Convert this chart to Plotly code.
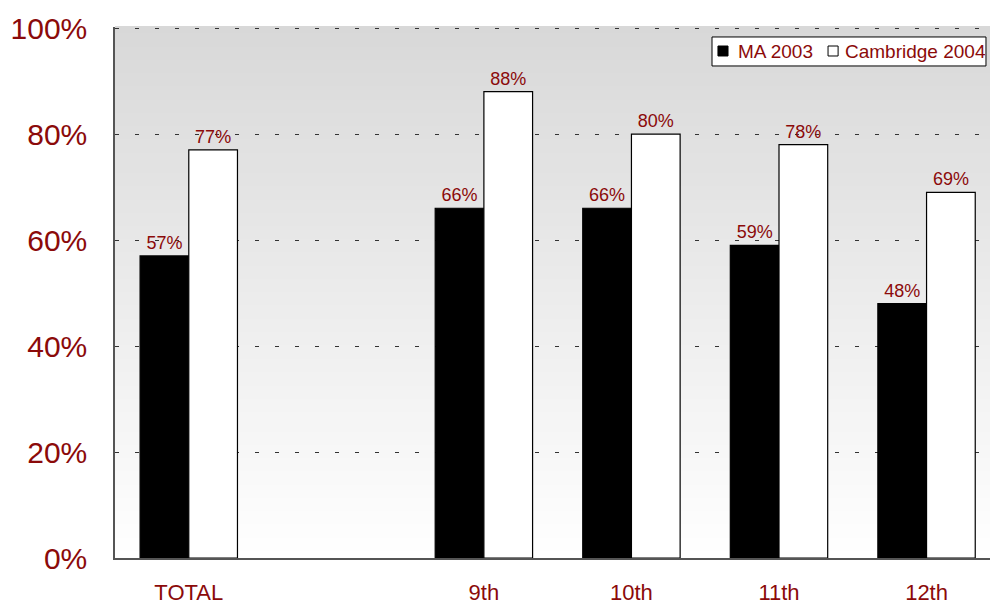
import plotly.graph_objects as go

categories = ["TOTAL", " ", "9th", "10th", "11th", "12th"]
ma_2003 = [57, None, 66, 66, 59, 48]
cambridge_2004 = [77, None, 88, 80, 78, 69]
series_names = ["MA 2003", "Cambridge 2004"]
series_colors = ["black", "white"]
y_ticks = [0, 20, 40, 60, 80, 100]

RED = "#8B0A0A"
FONT = "Arial, Liberation Sans, sans-serif"

def labels(vals):
    return [f"{v}%" if v is not None else "" for v in vals]

fig = go.Figure()
for name, vals, col in zip(series_names, [ma_2003, cambridge_2004], series_colors):
    fig.add_trace(go.Bar(
        x=categories, y=[v / 100 if v is not None else None for v in vals],
        name=name, marker=dict(color=col, line=dict(color="black", width=1.2)),
        text=labels(vals), textposition="outside", textangle=0,
        textfont=dict(color=RED, size=18, family=FONT), cliponaxis=False,
    ))

# gradient background
N = 80
top = 216
for i in range(N):
    y0 = i / N
    y1 = (i + 1) / N
    t = (i + 0.5) / N
    c = int(round(255 - (255 - top) * t))
    fig.add_shape(type="rect", xref="x domain", yref="y domain",
                  x0=0, x1=1, y0=y0, y1=y1 + 0.002, layer="below",
                  line=dict(width=0), fillcolor=f"rgb({c},{c},{c})")

# legend box (drawn manually to match the compact original legend)
fig.add_shape(type="rect", xref="paper", yref="paper",
              x0=0.6823, x1=0.9954, y0=0.9266, y1=0.9812,
              fillcolor="white", line=dict(color="black", width=1))
leg_sq_x = [0.6891, 0.8149]
leg_txt_x = [0.7097, 0.8320]
for name, col, sx, tx in zip(series_names, series_colors, leg_sq_x, leg_txt_x):
    fig.add_shape(type="rect", xref="paper", yref="paper",
                  x0=sx, x1=sx + 0.0115, y0=0.9454, y1=0.9642,
                  fillcolor=col, line=dict(color="black", width=1))
    fig.add_annotation(xref="paper", yref="paper", x=tx, y=0.9548,
                       xanchor="left", yanchor="middle", showarrow=False,
                       text=name, font=dict(size=19, color=RED, family=FONT))

fig.update_layout(
    width=990, height=606,
    margin=dict(l=115, r=0, t=27, b=48),
    paper_bgcolor="white", plot_bgcolor="white",
    barmode="group", bargap=0.34, bargroupgap=0,
    font=dict(family=FONT, color=RED),
    showlegend=False,
    xaxis=dict(
        range=[-0.5, 5.43], automargin=False,
        showline=True, linecolor="#555555", linewidth=1.5,
        ticks="outside", ticklen=14, tickcolor="rgba(0,0,0,0)",
        tickfont=dict(size=22, color=RED, family=FONT),
        showgrid=False,
    ),
    yaxis=dict(
        range=[0, 1.002], tickvals=[v / 100 for v in y_ticks], automargin=False,
        ticktext=[f"{v}%" for v in y_ticks],
        showline=True, linecolor="#555555", linewidth=1.5,
        ticks="outside", ticklen=20, tickcolor="rgba(0,0,0,0)",
        tickfont=dict(size=30, color=RED, family=FONT),
        showgrid=True, gridcolor="#333333", gridwidth=1, griddash="4px,16px",
        zeroline=False,
    ),
)

fig.write_html("out.html")
